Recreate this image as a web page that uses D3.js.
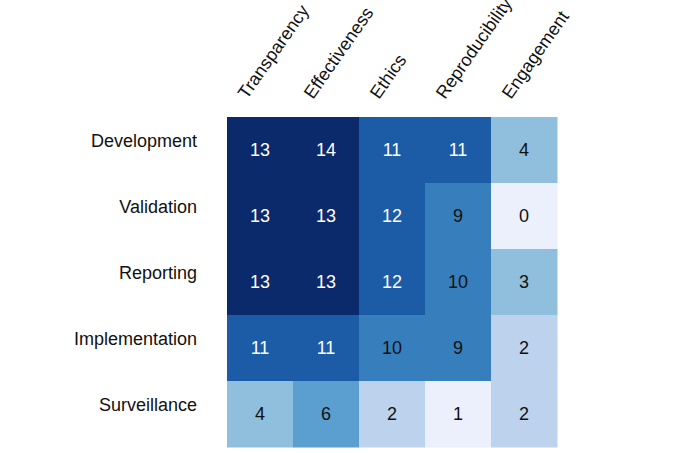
<!DOCTYPE html>
<html>
<head>
<meta charset="utf-8">
<script src="https://cdn.jsdelivr.net/npm/d3@7"></script>
<style>
  html, body { margin: 0; padding: 0; background: #fff; }
  svg { display: block; }
  text { font-family: "Liberation Sans", Arial, Helvetica, sans-serif; }
</style>
</head>
<body>
<svg id="chart" width="700" height="453"></svg>
<script>
const rows = ["Development", "Validation", "Reporting", "Implementation", "Surveillance"];
const cols = ["Transparency", "Effectiveness", "Ethics", "Reproducibility", "Engagement"];
const values = [
  [13, 14, 11, 11, 4],
  [13, 13, 12, 9, 0],
  [13, 13, 12, 10, 3],
  [11, 11, 10, 9, 2],
  [4, 6, 2, 1, 2]
];

const svg = d3.select("#chart");
const gridLeft = 227, gridTop = 117, cell = 66;

const x = d3.scaleBand().domain(cols).range([gridLeft, gridLeft + cell * cols.length]).padding(0);
const y = d3.scaleBand().domain(rows).range([gridTop, gridTop + cell * rows.length]).padding(0);

const color = d3.scaleThreshold()
  .domain([2, 3, 5, 7, 11, 13])
  .range(["#ecf0fc", "#bdd2ec", "#8fbfdc", "#5a9fcf", "#377fbc", "#1c5ba6", "#0b2a6b"]);

const cells = [];
rows.forEach((r, i) => cols.forEach((c, j) => cells.push({ r, c, v: values[i][j] })));

svg.append("g").selectAll("rect").data(cells).join("rect")
  .attr("x", d => x(d.c))
  .attr("y", d => y(d.r))
  .attr("width", x.bandwidth() + 0.5)
  .attr("height", y.bandwidth() + 0.5)
  .attr("fill", d => color(d.v));

svg.append("g").selectAll("text").data(cells).join("text")
  .attr("x", d => x(d.c) + x.bandwidth() / 2)
  .attr("y", d => y(d.r) + y.bandwidth() / 2)
  .attr("dy", "0.35em")
  .attr("text-anchor", "middle")
  .attr("font-size", 18)
  .attr("fill", d => d.v >= 11 ? "#ffffff" : "#111111")
  .text(d => d.v);

// Row labels
svg.append("g").selectAll("text").data(rows).join("text")
  .attr("x", gridLeft - 30)
  .attr("y", d => y(d) + y.bandwidth() / 2 - 3)
  .attr("text-anchor", "end")
  .attr("font-size", 18)
  .attr("fill", "#111")
  .text(d => d);

// Column labels
svg.append("g").selectAll("text").data(cols).join("text")
  .attr("transform", d => `translate(${x(d) + x.bandwidth() / 2 - 13},${gridTop - 17}) rotate(-55)`)
  .attr("text-anchor", "start")
  .attr("font-size", 18)
  .attr("fill", "#111")
  .text(d => d);
</script>
</body>
</html>
